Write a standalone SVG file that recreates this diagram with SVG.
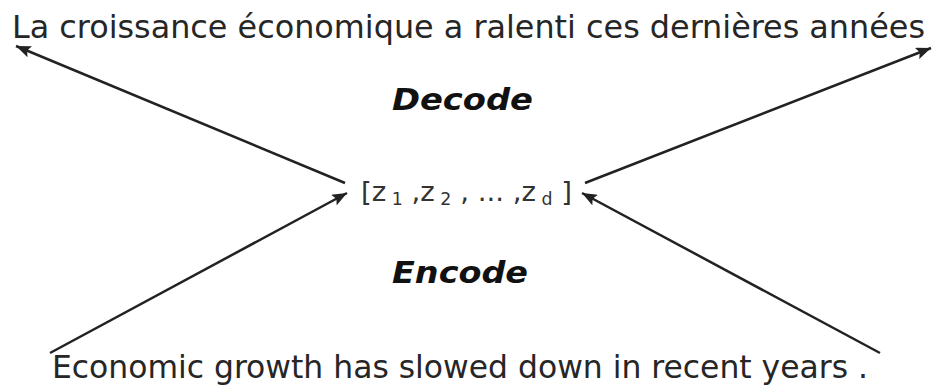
<svg xmlns="http://www.w3.org/2000/svg" width="934" height="386" viewBox="0 0 934 386">
<defs>
<style>
.lbl{font-family:"DejaVu Sans Condensed","DejaVu Sans","Liberation Sans",sans-serif;fill:#262626}
.big{font-size:32px}
.bi{font-family:"DejaVu Sans","Liberation Sans",sans-serif;font-size:31px;font-weight:bold;font-style:italic;fill:#111}
.vec{font-size:27px;fill:#333}
.sub{font-size:17px}
.conn{stroke:#222;stroke-width:2.5;fill:none;marker-end:url(#ah)}
</style>
<marker id="ah" markerUnits="userSpaceOnUse" markerWidth="16" markerHeight="12" refX="15" refY="6" orient="auto">
<path d="M0,0 L15,6 L0,12 L3,6 Z" fill="#222"/>
</marker>
</defs>
<rect width="934" height="386" fill="#fff"/>
<g id="french">
<text class="lbl big" x="12" y="38" textLength="913" lengthAdjust="spacingAndGlyphs">La croissance économique a ralenti ces dernières années</text>
</g>
<g id="decode">
<text class="lbl bi" x="392" y="110" textLength="141" lengthAdjust="spacingAndGlyphs">Decode</text>
</g>
<g id="vector">
<text class="lbl vec" x="361" y="201" textLength="211" lengthAdjust="spacingAndGlyphs">[z<tspan class="sub" dy="4"> 1</tspan><tspan dy="-4"> ,z</tspan><tspan class="sub" dy="4"> 2</tspan><tspan dy="-4"> , ... ,z</tspan><tspan class="sub" dy="4"> d</tspan><tspan dy="-4"> ]</tspan></text>
</g>
<g id="encode">
<text class="lbl bi" x="392" y="283" textLength="136" lengthAdjust="spacingAndGlyphs">Encode</text>
</g>
<g id="english">
<text class="lbl big" x="52" y="378" textLength="816" lengthAdjust="spacingAndGlyphs">Economic growth has slowed down in recent years .</text>
</g>
<g id="connectors">
<line class="conn" x1="345" y1="183" x2="16" y2="46"/>
<line class="conn" x1="585" y1="183" x2="931" y2="48"/>
<line class="conn" x1="50" y1="353" x2="347" y2="193"/>
<line class="conn" x1="880" y1="353" x2="582" y2="193"/>
</g>
</svg>
